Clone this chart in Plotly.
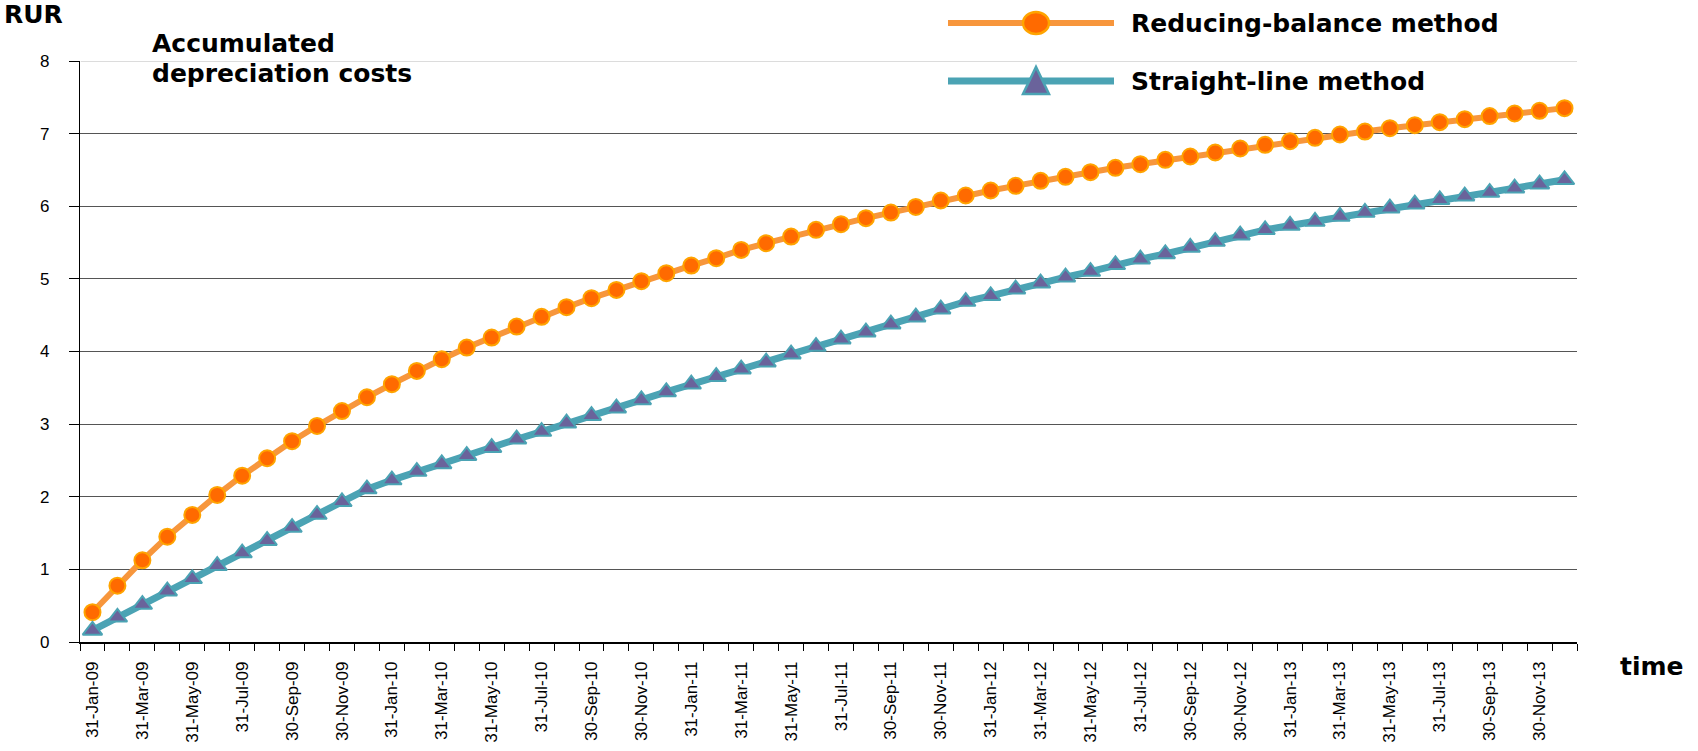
import pandas as pd
import plotly.graph_objects as go

# Month-end reporting dates, Jan 2009 - Dec 2013
dates = pd.date_range("2009-01-31", periods=60, freq="ME")
date_labels = [d.strftime("%d-%b-%y") for d in dates]

# Accumulated depreciation, RUR
reducing_balance = [
    0.41, 0.775, 1.125, 1.45, 1.75, 2.025, 2.29, 2.53, 2.765, 2.975,
    3.18, 3.37, 3.55, 3.733, 3.894, 4.054, 4.192, 4.343, 4.477, 4.61,
    4.734, 4.848, 4.968, 5.078, 5.183, 5.285, 5.399, 5.491, 5.582, 5.675,
    5.753, 5.836, 5.913, 5.99, 6.079, 6.148, 6.217, 6.281, 6.35, 6.405,
    6.469, 6.529, 6.579, 6.639, 6.685, 6.74, 6.795, 6.846, 6.896, 6.942,
    6.988, 7.029, 7.075, 7.117, 7.158, 7.199, 7.241, 7.277, 7.314, 7.351,
]
straight_line = [
    0.16, 0.34, 0.515, 0.70, 0.87, 1.05, 1.225, 1.395, 1.575, 1.755,
    1.93, 2.105, 2.23, 2.346, 2.452, 2.566, 2.676, 2.792, 2.897, 3.012,
    3.117, 3.219, 3.333, 3.444, 3.549, 3.654, 3.756, 3.853, 3.963, 4.068,
    4.169, 4.266, 4.376, 4.472, 4.582, 4.688, 4.766, 4.858, 4.94, 5.023,
    5.101, 5.193, 5.271, 5.344, 5.432, 5.514, 5.601, 5.675, 5.735, 5.79,
    5.859, 5.914, 5.973, 6.028, 6.088, 6.139, 6.189, 6.249, 6.304, 6.364,
]
series_names = ["Reducing-balance method", "Straight-line method"]
y_ticks = [0, 1, 2, 3, 4, 5, 6, 7, 8]

# Figure geometry (pixels)
W, H = 1698, 751
L, R, T, B = 80, 121, 61, 109
PW, PH = W - L - R, H - T - B

ORANGE_LINE = "#F7963C"
ORANGE_FILL = "#FF6A00"
ORANGE_EDGE = "#FFA400"
TEAL_LINE = "#4BA3B4"
TRI_FILL = "#6A639B"

BOLD = "DejaVu Sans"
TICK_FONT = "Liberation Sans"


def px_x(p):
    return (p - L) / PW


def px_y(p):
    return (H - B - p) / PH


fig = go.Figure()
fig.add_trace(go.Scatter(
    x=date_labels, y=reducing_balance, name=series_names[0], mode="lines+markers",
    line=dict(color=ORANGE_LINE, width=6),
    marker=dict(symbol="circle", size=16, color=ORANGE_FILL,
                line=dict(color=ORANGE_EDGE, width=2)),
))
fig.add_trace(go.Scatter(
    x=date_labels, y=straight_line, name=series_names[1], mode="lines+markers",
    line=dict(color=TEAL_LINE, width=7),
    marker=dict(symbol="triangle-up", size=17, color=TRI_FILL,
                line=dict(color=TEAL_LINE, width=2)),
))

tick_text = [lab if i % 2 == 0 else "" for i, lab in enumerate(date_labels)]

fig.update_layout(
    width=W, height=H,
    margin=dict(l=L, r=R, t=T, b=B, autoexpand=False),
    paper_bgcolor="white", plot_bgcolor="white",
    showlegend=False,
    font=dict(family=TICK_FONT, color="black"),
    xaxis=dict(
        type="category", range=[-0.5, 59.5],
        tickmode="array", tickvals=date_labels, ticktext=tick_text,
        tickson="boundaries", ticks="outside", ticklen=7, tickcolor="black",
        tickangle=-90, tickfont=dict(size=17, family=TICK_FONT),
        ticklabelstandoff=11,
        showline=True, linecolor="black", linewidth=1.5,
        showgrid=False, automargin=False,
    ),
    yaxis=dict(
        range=[0, 8], tickmode="array", tickvals=y_ticks,
        ticks="outside", ticklen=10, tickcolor="black",
        tickfont=dict(size=17, family=TICK_FONT),
        ticklabelstandoff=16,
        showline=True, linecolor="black", linewidth=1.2,
        showgrid=True, gridcolor="#555555", gridwidth=1,
        zeroline=False, automargin=False,
    ),
)

# light frame line along the top of the plot area
fig.add_shape(type="line", xref="paper", yref="y", x0=0.0005, x1=1, y0=8, y1=8,
              line=dict(color="#dcdcdc", width=2), layer="above")

# legend drawn beside the title area
leg_rows = [(23, ORANGE_LINE, 6), (81, TEAL_LINE, 7)]
for row_y, col, wid in leg_rows:
    fig.add_shape(type="line", xref="paper", yref="paper",
                  x0=px_x(948), x1=px_x(1114), y0=px_y(row_y), y1=px_y(row_y),
                  line=dict(color=col, width=wid))
fig.add_shape(type="circle", xref="paper", yref="paper",
              xsizemode="pixel", ysizemode="pixel",
              xanchor=px_x(1036), yanchor=px_y(23),
              x0=-13, x1=13, y0=-11, y1=11,
              fillcolor=ORANGE_FILL, line=dict(color=ORANGE_EDGE, width=2.5))
fig.add_shape(type="path", xref="paper", yref="paper",
              xsizemode="pixel", ysizemode="pixel",
              xanchor=px_x(1036), yanchor=px_y(81),
              path="M -13,-13 L 13,-13 L 0,14 Z",
              fillcolor=TRI_FILL, line=dict(color=TEAL_LINE, width=2.5))

for row_y, name in zip([23, 81], series_names):
    fig.add_annotation(xref="paper", yref="paper", x=px_x(1129), y=px_y(row_y),
                       xanchor="left", yanchor="middle", showarrow=False,
                       text="<b>%s</b>" % name, font=dict(size=25, family=BOLD))

# titles
fig.add_annotation(xref="paper", yref="paper", x=px_x(2), y=px_y(14),
                   xanchor="left", yanchor="middle", showarrow=False,
                   text="<b>RUR</b>", font=dict(size=25, family=BOLD))
fig.add_annotation(xref="paper", yref="paper", x=px_x(150), y=px_y(44),
                   xanchor="left", yanchor="middle", showarrow=False,
                   text="<b>Accumulated</b>", font=dict(size=25, family=BOLD))
fig.add_annotation(xref="paper", yref="paper", x=px_x(150), y=px_y(73),
                   xanchor="left", yanchor="middle", showarrow=False,
                   text="<b>depreciation costs</b>", font=dict(size=25, family=BOLD))
fig.add_annotation(xref="paper", yref="paper", x=px_x(1618), y=px_y(666),
                   xanchor="left", yanchor="middle", showarrow=False,
                   text="<b>time</b>", font=dict(size=25, family=BOLD))

fig.write_html("out.html")
